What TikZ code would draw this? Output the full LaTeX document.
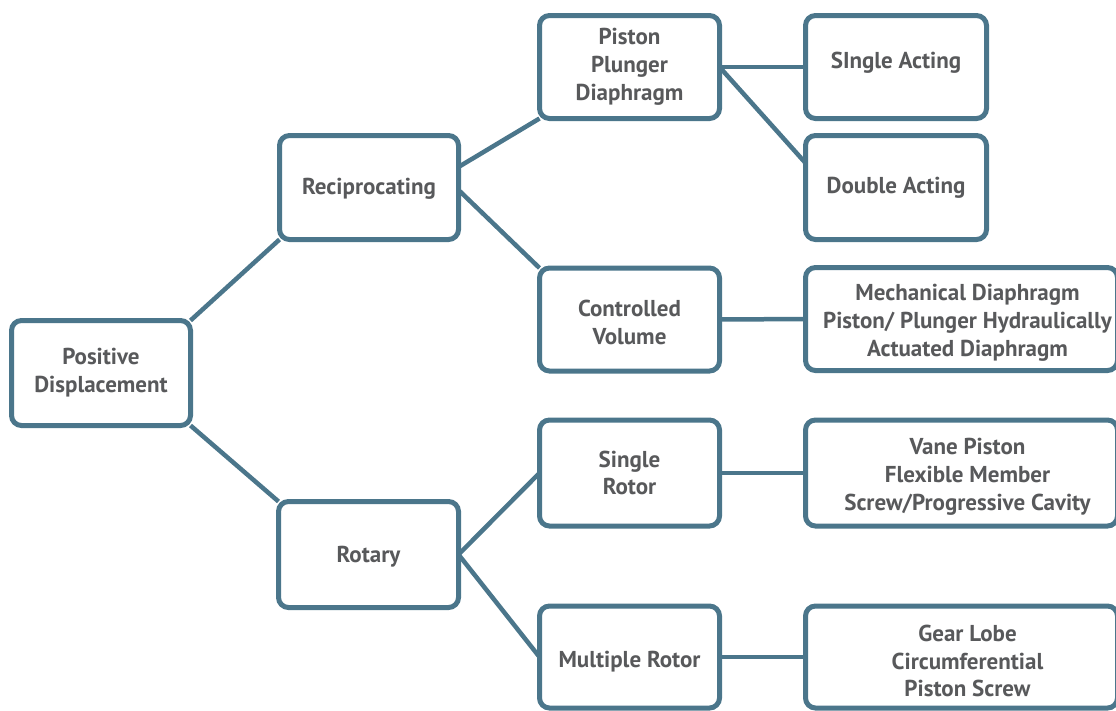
\documentclass[tikz,border=0pt]{standalone}
\usepackage{fontspec}
\setmainfont{PT Sans}
\definecolor{edgec}{HTML}{4B768B}
\definecolor{txtc}{HTML}{58595B}
\begin{document}
\begin{tikzpicture}[x=1pt,y=-1pt,
  boxtext/.style={align=center, text=txtc, font=\fontsize{23}{27.8}\selectfont\bfseries, inner sep=0pt},
  box/.style={draw=edgec, line width=5pt, rounded corners=10pt, fill=white,
    boxtext, outer sep=0pt},
  link/.style={draw=edgec, line width=4.5pt}]
\useasboundingbox (0,0) rectangle (1116,710);
\clip (0,0) rectangle (1116,710);
\node[box, minimum width=179pt, minimum height=105pt] (pd) at (101,373) {Positive\\Displacement};
\node[box, minimum width=179pt, minimum height=104pt,
  label={[boxtext, yshift=-1.5pt]center:Reciprocating}] (rec) at (369,187.5) {};
\node[box, minimum width=180pt, minimum height=106pt,
  label={[boxtext, yshift=-2pt]center:Rotary}] (rot) at (368.5,554.5) {};
\node[box, minimum width=180pt, minimum height=103pt] (pis) at (629.5,67) {Piston\\Plunger\\Diaphragm};
\node[box, minimum width=180pt, minimum height=103pt,
  label={[boxtext, yshift=-3pt]center:Controlled\\Volume}] (cv) at (629.5,319.5) {};
\node[box, minimum width=180pt, minimum height=106pt] (sr) at (629.5,473) {Single\\Rotor};
\node[box, minimum width=180pt, minimum height=102pt,
  label={[boxtext, yshift=-5pt]center:Multiple Rotor}] (mr) at (629.5,657) {};
\node[box, minimum width=181pt, minimum height=103pt,
  label={[boxtext, yshift=4pt]center:SIngle Acting}] (sa) at (896,67) {};
\node[box, minimum width=181pt, minimum height=104pt] (da) at (896,187.5) {Double Acting};
\node[box, minimum width=312pt, minimum height=103pt,
  label={[boxtext, xshift=6pt, yshift=-3.5pt]center:Mechanical Diaphragm\\Piston/ Plunger Hydraulically\\Actuated Diaphragm}] (mech) at (961.5,319) {};
\node[box, minimum width=312pt, minimum height=106pt,
  label={[boxtext, xshift=6pt, yshift=-4pt]center:Vane Piston\\Flexible Member\\Screw/Progressive Cavity}] (vane) at (961.5,473) {};
\node[box, minimum width=312pt, minimum height=102pt,
  label={[boxtext, xshift=6pt, yshift=-4pt]center:Gear Lobe\\Circumferential\\Piston Screw}] (gear) at (961.5,657) {};
\draw[link] (pd.north east) -- (rec.south west);
\draw[link] (pd.south east) -- (rot.north west);
\draw[link] ([yshift=20.5pt]rec.east) -- (pis.south west);
\draw[link] ([yshift=-2.5pt]rec.east) -- (cv.north west);
\draw[link] (rot.east) -- (sr.west);
\draw[link] (rot.east) -- (mr.west);
\draw[link] (pis.east) -- (sa.west);
\draw[link] (pis.east) -- ([yshift=24.5pt]da.west);
\draw[link] (cv.east) -- (mech.west);
\draw[link] (sr.east) -- (vane.west);
\draw[link] (mr.east) -- (gear.west);
\end{tikzpicture}
\end{document}
